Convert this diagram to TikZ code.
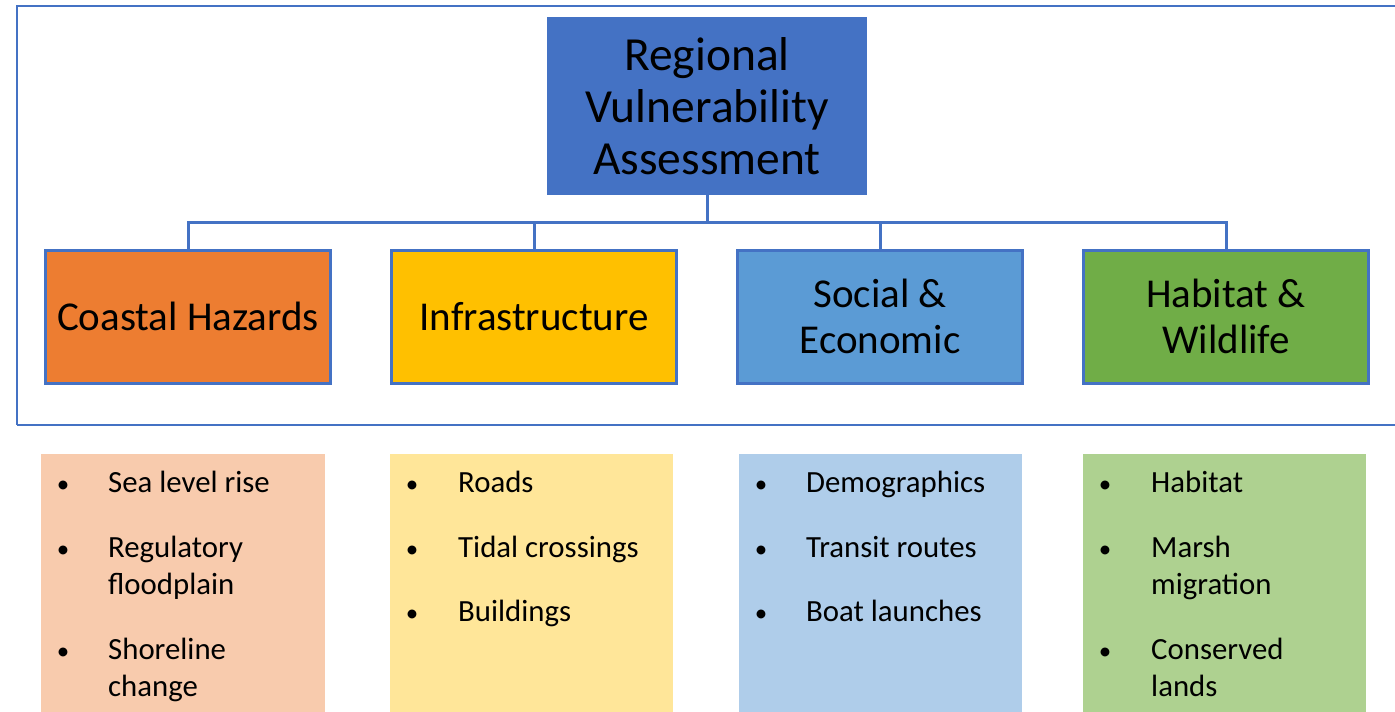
\documentclass[tikz,border=0pt]{standalone}
\usepackage{fontspec}
\setmainfont{Carlito}
\definecolor{frameblue}{HTML}{4472C4}
\definecolor{topblue}{HTML}{4472C4}
\definecolor{corange}{HTML}{ED7D31}
\definecolor{cgold}{HTML}{FFC000}
\definecolor{cblue}{HTML}{5B9BD5}
\definecolor{cgreen}{HTML}{70AD47}
\definecolor{lorange}{HTML}{F8CBAD}
\definecolor{lgold}{HTML}{FFE699}
\definecolor{lblue}{HTML}{AFCDEA}
\definecolor{lgreen}{HTML}{AED190}
\tikzset{
  topbox/.style={fill=topblue, draw=topblue, line width=1pt, minimum width=319pt, minimum height=177pt, inner sep=0pt, outer sep=0pt, align=center, font=\fontsize{47.5}{52}\selectfont},
  catbox/.style={draw=frameblue, line width=3pt, minimum width=285pt, minimum height=133pt, inner sep=0pt, outer sep=1.5pt, align=center, font=\fontsize{41}{46}\selectfont},
  link/.style={draw=frameblue, line width=3pt},
  itemtext/.style={anchor=base west, inner sep=0pt, font=\fontsize{30.8}{37}\selectfont},
  bullet/.style={anchor=base, inner sep=0pt, font=\fontsize{25}{37}\selectfont},
  listbox/.style={draw=none}
}
\begin{document}
\begin{tikzpicture}[x=1pt,y=-1pt]
\useasboundingbox (0,0) rectangle (1395,712);
% outer frame
\draw[frameblue, line width=1.3pt] (1400,6) -- (17,6) -- (17,425);
\draw[frameblue, line width=2.5pt] (17,425) -- (1400,425);

% top box
\node[topbox] (top) at (707,106) {Regional\\Vulnerability\\Assessment};

% category boxes
\node[catbox, fill=corange] (ch) at (188,316.5) {Coastal Hazards};
\node[catbox, fill=cgold] (inf) at (534,316.5) {Infrastructure};
\node[catbox, fill=cblue] (se) at (880,316.5) {Social \&\\Economic};
\node[catbox, fill=cgreen] (hw) at (1226,316.5) {Habitat \&\\Wildlife};

% connectors
\coordinate (bus) at (707,222);
\draw[link] (top.south) -- (bus);
\draw[link] (bus) -| (ch.north);
\draw[link] (bus) -| (inf.north);
\draw[link] (bus) -| (se.north);
\draw[link] (bus) -| (hw.north);

% list boxes
\fill[lorange] (41,454) rectangle (325,715);
\fill[lgold] (390,454) rectangle (673,715);
\fill[lblue] (739,454) rectangle (1022,715);
\fill[lgreen] (1083,454) rectangle (1366,715);

% coastal hazards list
\node[bullet] (cb1) at (63,492) {•};
\node[itemtext] (ct1) at (108,492) {Sea level rise};
\node[bullet] (cb2) at (63,557) {•};
\node[itemtext] (ct2a) at (108,557) {Regulatory};
\node[itemtext] (ct2b) at (108,594) {floodplain};
\node[bullet] (cb3) at (63,659) {•};
\node[itemtext] (ct3a) at (108,659) {Shoreline};
\node[itemtext] (ct3b) at (108,696) {change};

% infrastructure list
\node[bullet] (ib1) at (412,492) {•};
\node[itemtext] (it1) at (458,492) {Roads};
\node[bullet] (ib2) at (412,557) {•};
\node[itemtext] (it2) at (458,557) {Tidal crossings};
\node[bullet] (ib3) at (412,621) {•};
\node[itemtext] (it3) at (458,621) {Buildings};

% social list
\node[bullet] (sb1) at (761,492) {•};
\node[itemtext] (st1) at (806,492) {Demographics};
\node[bullet] (sb2) at (761,557) {•};
\node[itemtext] (st2) at (806,557) {Transit routes};
\node[bullet] (sb3) at (761,621) {•};
\node[itemtext] (st3) at (806,621) {Boat launches};

% habitat list
\node[bullet] (hb1) at (1105,492) {•};
\node[itemtext] (ht1) at (1151,492) {Habitat};
\node[bullet] (hb2) at (1105,557) {•};
\node[itemtext] (ht2a) at (1151,557) {Marsh};
\node[itemtext] (ht2b) at (1151,594) {migration};
\node[bullet] (hb3) at (1105,659) {•};
\node[itemtext] (ht3a) at (1151,659) {Conserved};
\node[itemtext] (ht3b) at (1151,696) {lands};
\end{tikzpicture}
\end{document}
